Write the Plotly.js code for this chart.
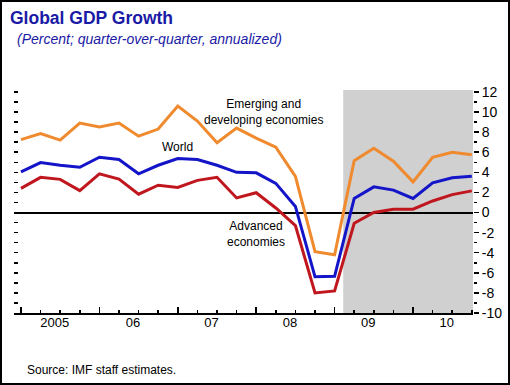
<!DOCTYPE html>
<html><head><meta charset="utf-8">
<script src="https://cdn.plot.ly/plotly-3.0.1.min.js"></script>
<style>
html,body{margin:0;padding:0;background:#fff}
#wrap{position:relative;width:510px;height:385px}
#chart{width:510px;height:385px}
#frame{position:absolute;left:0;top:0;width:510px;height:385px;box-sizing:border-box;border:2px solid #000;pointer-events:none}
</style>
</head><body><div id="wrap"><div id="chart"></div><div id="frame"></div></div>
<script>
// ---- data ----
const quarters = ['2005Q1','2005Q2','2005Q3','2005Q4','2006Q1','2006Q2','2006Q3','2006Q4',
  '2007Q1','2007Q2','2007Q3','2007Q4','2008Q1','2008Q2','2008Q3','2008Q4',
  '2009Q1','2009Q2','2009Q3','2009Q4','2010Q1','2010Q2','2010Q3','2010Q4'];
const emerging = [7.25, 7.85, 7.2, 8.9, 8.5, 8.9, 7.6, 8.3, 10.6, 9.1, 6.95, 8.4,
  7.4, 6.5, 3.6, -3.9, -4.2, 5.15, 6.4, 5.1, 3.05, 5.5, 6.0, 5.75];
const world = [4.05, 4.97, 4.7, 4.5, 5.5, 5.27, 3.85, 4.7, 5.37, 5.27, 4.7, 4.0,
  3.95, 2.9, 0.6, -6.4, -6.35, 1.4, 2.55, 2.23, 1.4, 2.95, 3.45, 3.6];
const advanced = [2.4, 3.5, 3.3, 2.18, 3.84, 3.32, 1.82, 2.72, 2.5, 3.2, 3.5, 1.45,
  1.97, 0.45, -1.3, -8.0, -7.8, -1.07, 0.0, 0.32, 0.33, 1.15, 1.78, 2.15];
const yearTicks = [2005, 2006, 2007, 2008, 2009, 2010];
const yearLabels = ['2005', '06', '07', '08', '09', '10'];
const yTickVals = [-10, -8, -6, -4, -2, 0, 2, 4, 6, 8, 10, 12];
const yTickText = ['-10', '-8', '-6', '-4', '-2', '0', '2', '4', '6', '8', '10', '12'];
const yMinorVals = [-9, -7, -5, -3, -1, 1, 3, 5, 7, 9, 11];
const projectionStart = 2009.11;

// ---- helpers ----
const toYear = q => parseInt(q.slice(0, 4)) + (parseInt(q.slice(5)) - 1) * 0.25;
const xs = quarters.map(toYear);
const xRange = [2004.911, 2010.765];
const yRange = [-10, 12.19];
const allInts = yTickVals.concat(yMinorVals).sort((a, b) => a - b);
const labelPos = yearTicks.map(y => y + 0.43);

const FONT = 'Liberation Sans, Arial, sans-serif';
const TITLE_BLUE = '#1a1aa6';

const lineTrace = (y, color, name) => ({
  x: xs, y: y, type: 'scatter', mode: 'lines', name: name,
  line: {color: color, width: 3}, hoverinfo: 'skip', showlegend: false
});

const traces = [
  lineTrace(emerging, '#f08a2e', 'Emerging and developing economies'),
  lineTrace(world, '#1414c8', 'World'),
  lineTrace(advanced, '#c0161e', 'Advanced economies'),
  // empty helper trace so the overlay axes (year labels, left ticks) are drawn
  {x: [xs[0]], y: [null], xaxis: 'x2', yaxis: 'y2', type: 'scatter', mode: 'lines',
   hoverinfo: 'skip', showlegend: false}
];

const px2paperX = px => (px - 14) / 459;
const px2paperY = py => (313 - py) / 223;

const layout = {
  width: 510, height: 385,
  margin: {l: 14, r: 37, t: 90, b: 72, pad: 0},
  paper_bgcolor: '#fff', plot_bgcolor: 'rgba(0,0,0,0)',
  showlegend: false,
  font: {family: FONT, color: '#000', size: 12},
  title: {
    text: '<b>Global GDP Growth</b>',
    xref: 'container', yref: 'container',
    x: 10 / 510, xanchor: 'left',
    y: 1 - 17.5 / 385, yanchor: 'middle',
    font: {family: FONT, size: 17.5, color: TITLE_BLUE}
  },
  xaxis: {
    range: xRange, tickmode: 'array', tickvals: yearTicks,
    ticks: 'inside', ticklen: 6, tickwidth: 1.5, tickcolor: '#000',
    showticklabels: false, showline: true, linecolor: '#000', linewidth: 2,
    showgrid: false, zeroline: false, fixedrange: true,
    minor: {tickmode: 'array', tickvals: xs, ticks: 'inside', ticklen: 3,
            tickwidth: 1.5, tickcolor: '#000', showgrid: false}
  },
  xaxis2: {
    overlaying: 'x', anchor: 'y2', side: 'bottom', range: xRange,
    tickmode: 'array', tickvals: labelPos, ticktext: yearLabels,
    ticks: '', showline: false, showgrid: false, zeroline: false,
    tickfont: {family: FONT, size: 13, color: '#000'}, fixedrange: true
  },
  yaxis: {
    side: 'right', range: yRange, tickmode: 'array',
    tickvals: yTickVals, ticktext: yTickText,
    ticks: 'outside', ticklen: 5, tickwidth: 1.5, tickcolor: '#000',
    showline: false, showgrid: false,
    zeroline: true, zerolinecolor: '#000', zerolinewidth: 2,
    tickfont: {family: FONT, size: 14, color: '#000'}, fixedrange: true,
    minor: {tickmode: 'array', tickvals: yMinorVals, ticks: 'outside', ticklen: 3,
            tickwidth: 1.5, tickcolor: '#000', showgrid: false}
  },
  yaxis2: {
    overlaying: 'y', anchor: 'x2', side: 'left', range: yRange,
    tickmode: 'array', tickvals: allInts, ticks: 'inside', ticklen: 4,
    tickwidth: 1.5, tickcolor: '#000', showticklabels: false,
    showline: false, showgrid: false, zeroline: false, fixedrange: true
  },
  shapes: [{
    type: 'rect', xref: 'x', yref: 'paper', x0: projectionStart, x1: xRange[1],
    y0: 0, y1: 1, fillcolor: '#d0d0d0', line: {width: 0}, layer: 'below'
  }],
  annotations: [
    {text: '<i>(Percent; quarter-over-quarter, annualized)</i>', xref: 'paper', yref: 'paper',
     x: px2paperX(15), y: px2paperY(38.5), xanchor: 'left', yanchor: 'middle',
     showarrow: false, font: {family: FONT, size: 14, color: TITLE_BLUE}},
    {text: 'Source: IMF staff estimates.', xref: 'paper', yref: 'paper',
     x: px2paperX(25), y: px2paperY(370), xanchor: 'left', yanchor: 'middle',
     showarrow: false, font: {family: FONT, size: 12, color: '#000'}},
    {text: 'Emerging and<br>developing economies', xref: 'x', yref: 'y',
     x: 2008.09, y: 10.05, xanchor: 'center', yanchor: 'middle', align: 'center',
     showarrow: false, font: {family: FONT, size: 12, color: '#000'}},
    {text: 'World', xref: 'x', yref: 'y', x: 2007.0, y: 6.5,
     xanchor: 'center', yanchor: 'middle', showarrow: false,
     font: {family: FONT, size: 12, color: '#000'}},
    {text: 'Advanced<br>economies', xref: 'x', yref: 'y', x: 2008.0, y: -2.1,
     xanchor: 'center', yanchor: 'middle', align: 'center',
     showarrow: false, font: {family: FONT, size: 12, color: '#000'}}
  ]
};

Plotly.newPlot('chart', traces, layout, {displayModeBar: false, staticPlot: true});
</script>
</body></html>
